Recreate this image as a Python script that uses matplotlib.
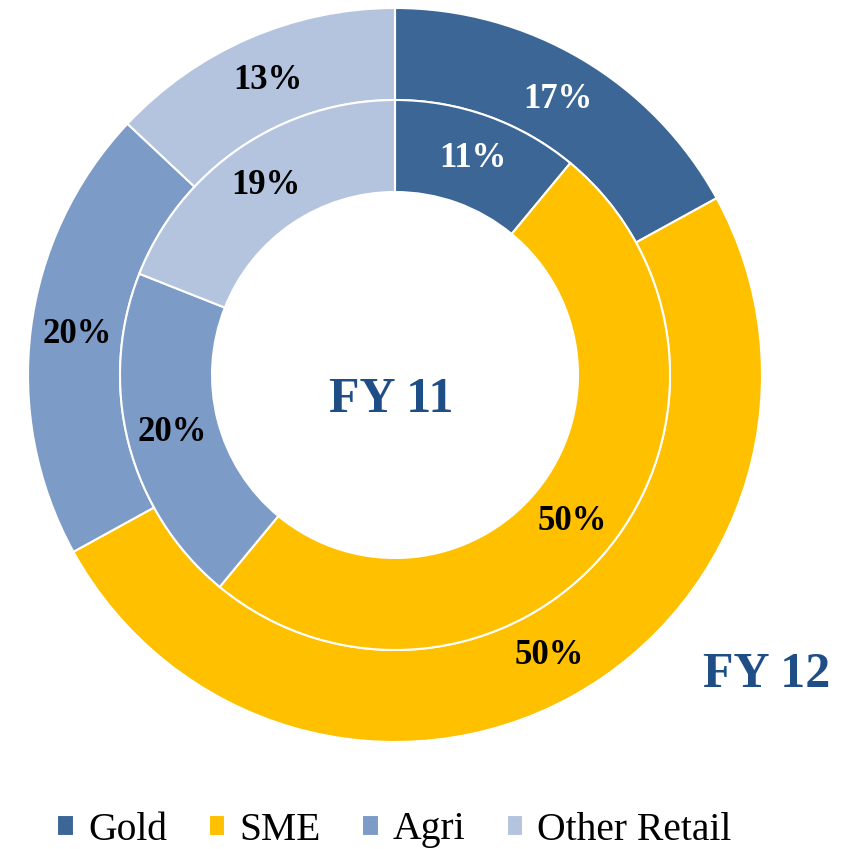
import matplotlib.pyplot as plt

categories = ['Gold', 'SME', 'Agri', 'Other Retail']
fy12 = [17, 50, 20, 13]   # outer ring
fy11 = [11, 50, 20, 19]   # inner ring
colors = ['#3B6696', '#FFC000', '#7C9BC7', '#B4C4DF']
label_colors = ['white', 'black', 'black', 'black']

plt.rcParams['font.family'] = ['Liberation Serif', 'DejaVu Serif']

fig = plt.figure(figsize=(8.5, 8.49), dpi=100)
ax = fig.add_axes([0, 0, 1, 1])
ax.set_xlim(0, 850)
ax.set_ylim(0, 849)
ax.set_aspect('equal')
ax.axis('off')

cx, cy = 395, 474

w_out, _, t_out = ax.pie(fy12, radius=367, center=(cx, cy), colors=colors,
                         startangle=90, counterclock=False,
                         autopct='%.0f%%', pctdistance=0.873,
                         wedgeprops=dict(width=92, edgecolor='white', linewidth=1.5))
w_in, _, t_in = ax.pie(fy11, radius=275, center=(cx, cy), colors=colors,
                       startangle=90, counterclock=False,
                       autopct='%.0f%%', pctdistance=0.835,
                       wedgeprops=dict(width=92, edgecolor='white', linewidth=1.5))

for texts in (t_out, t_in):
    for t, c in zip(texts, label_colors):
        t.set_color(c)
        t.set_fontsize(25)
        t.set_fontweight('bold')

ax.set_xlim(0, 850)
ax.set_ylim(0, 849)

ax.text(cx - 4, 849 - 400, 'FY 11', ha='center', va='center', fontsize=36,
        fontweight='bold', color='#1F4E87')
ax.text(767, 849 - 675, 'FY 12', ha='center', va='center', fontsize=36,
        fontweight='bold', color='#1F4E87')

ax.legend(w_out, categories, loc='center', bbox_to_anchor=(0.464, 19 / 849),
          ncol=4, frameon=False, fontsize=28.5, handlelength=0.42, handleheight=0.42,
          handletextpad=0.35, columnspacing=1.05)

fig.savefig('out.png', dpi=100)
